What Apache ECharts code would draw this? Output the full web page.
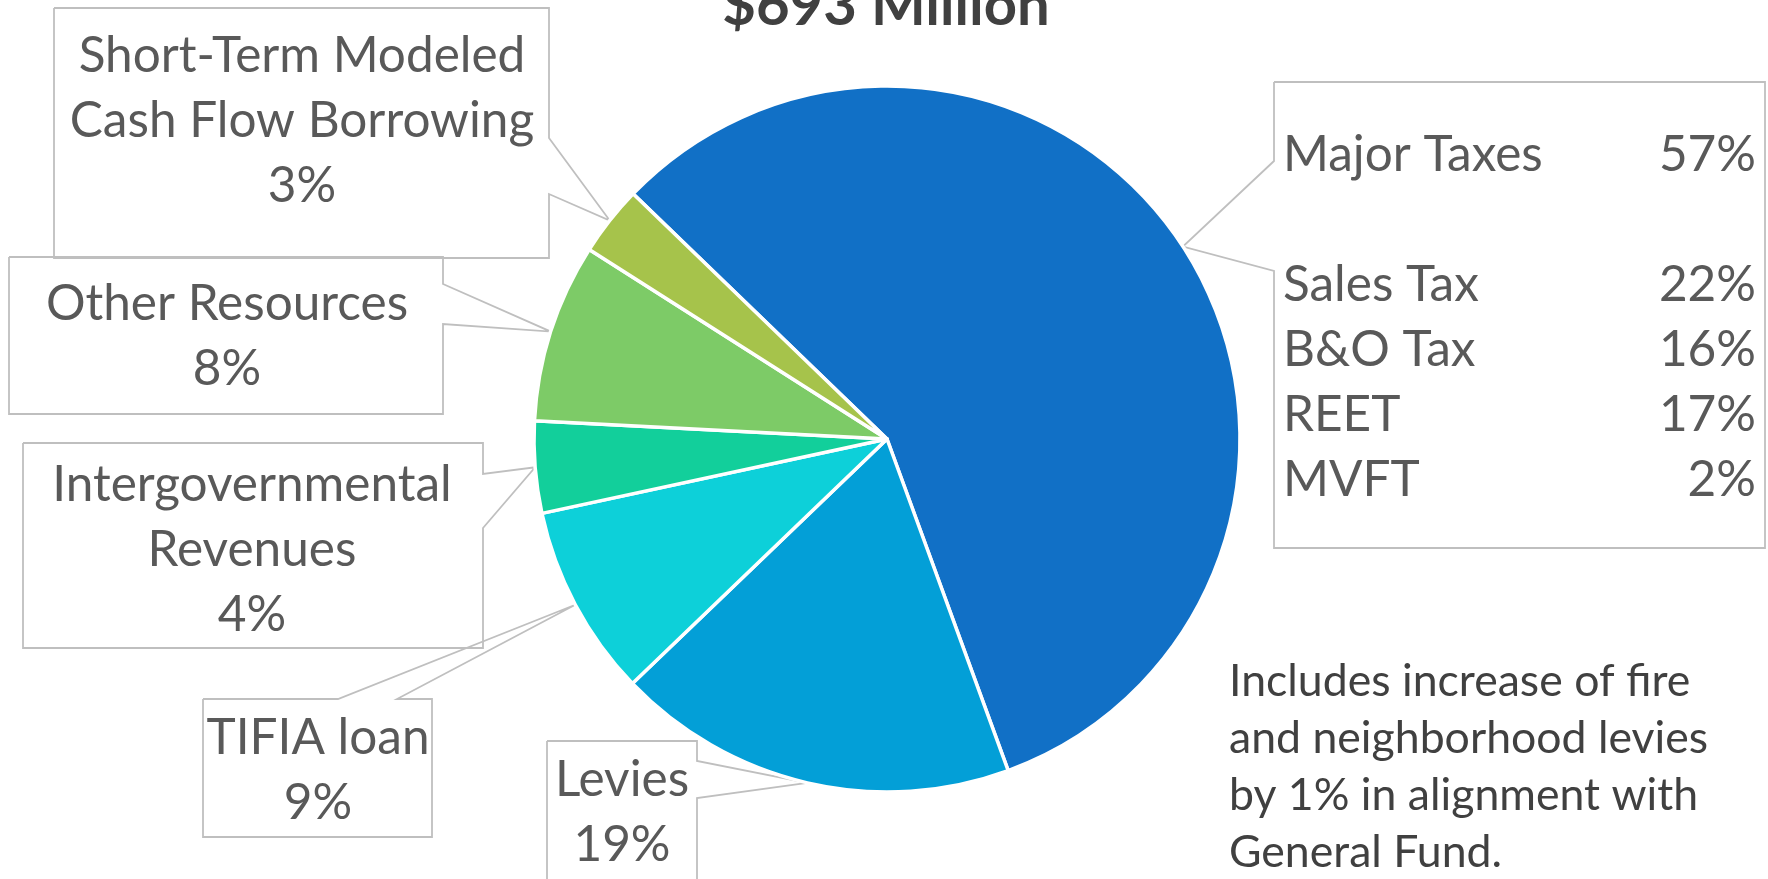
<!DOCTYPE html>
<html>
<head>
<meta charset="utf-8">
<script src="https://cdn.jsdelivr.net/npm/echarts@6/dist/echarts.min.js"></script>
<style>
html,body{margin:0;padding:0;background:#ffffff;}
#chart{width:1768px;height:879px;}
</style>
</head>
<body>
<div id="chart"></div>
<script>
// ---------- data ----------
const categories = ['Major Taxes', 'Levies', 'TIFIA loan', 'Intergovernmental Revenues', 'Other Resources', 'Short-Term Modeled Cash Flow Borrowing'];
const shares = [57.2, 18.4, 8.8, 4.2, 8.2, 3.2];
const pctLabels = ['57%', '19%', '9%', '4%', '8%', '3%'];
const labelNameLines = [['Major Taxes'], ['Levies'], ['TIFIA loan'], ['Intergovernmental', 'Revenues'], ['Other Resources'], ['Short-Term Modeled', 'Cash Flow Borrowing']];
const majorTaxItems = ['Sales Tax', 'B&O Tax', 'REET', 'MVFT'];
const majorTaxPcts = ['22%', '16%', '17%', '2%'];
const titleText = '$693 Million';
const noteLines = ['Includes increase of fire', 'and neighborhood levies', 'by 1% in alignment with', 'General Fund.'];

// ---------- styles / layout ----------
const colors = ['#1170C6', '#039FD7', '#0DD0D9', '#12CF9B', '#7DCB67', '#A6C34B'];
const FONT = 'Lato';
const LABEL_SIZE = 49.5;
const LABEL_LH = 65;
const LABEL_COLOR = '#595959';
const LINE_COLOR = '#BFBFBF';

// callout boxes (annotation layout): rect, which side carries the pointer, pointer base positions, text anchor
const boxes = [
  {l: 1274, t: 82, r: 1765, b: 548, side: 'left', w1: 161, w2: 271, tx: 1283, ty: 318, align: 'left'},
  {l: 547, t: 741, r: 697, b: 905, side: 'right', w1: 761, w2: 798, tx: 622, ty: 813, align: 'center'},
  {l: 203, t: 699, r: 432, b: 837, side: 'top', w1: 338, w2: 397, tx: 318, ty: 771, align: 'center'},
  {l: 23, t: 443, r: 483, b: 648, side: 'right', w1: 474, w2: 528, tx: 252, ty: 550, align: 'center'},
  {l: 9, t: 257, r: 443, b: 414, side: 'right', w1: 284, w2: 324, tx: 227, ty: 337, align: 'center'},
  {l: 54, t: 8, r: 549, b: 258, side: 'right', w1: 138, w2: 194, tx: 302, ty: 121, align: 'center'}
];

function calloutPoints(b, tip) {
  const l = b.l, t = b.t, r = b.r, bt = b.b;
  if (b.side === 'right') {
    return [[l, t], [r, t], [r, b.w1], tip, [r, b.w2], [r, bt], [l, bt], [l, t]];
  } else if (b.side === 'left') {
    return [[l, t], [r, t], [r, bt], [l, bt], [l, b.w2], tip, [l, b.w1], [l, t]];
  } else { // top
    return [[l, t], [b.w1, t], tip, [b.w2, t], [r, t], [r, bt], [l, bt], [l, t]];
  }
}

const chart = echarts.init(document.getElementById('chart'), null, {renderer: 'canvas'});

const seriesData = categories.map((name, i) => ({
  name: name,
  value: shares[i],
  itemStyle: {color: colors[i]}
}));

function labelFormatter(p) {
  const i = p.dataIndex;
  if (i === 0) {
    const rows = [[labelNameLines[0][0], pctLabels[0]], [' ', ' ']];
    majorTaxItems.forEach((n, k) => rows.push([n, majorTaxPcts[k]]));
    return rows.map(rw => '{n|' + rw[0] + '}{p|' + rw[1] + '}').join('\n');
  }
  return labelNameLines[i].concat([pctLabels[i]]).join('\n');
}

const option = {
  backgroundColor: '#ffffff',
  animation: false,
  graphic: [
    {
      type: 'text', x: 886, y: 6, z: 10,
      style: {text: titleText, font: 'bold 58px ' + FONT, fill: '#404040', align: 'center', verticalAlign: 'middle'}
    },
    {
      type: 'text', x: 1229, y: 767, z: 10,
      style: {text: noteLines.join('\n'), font: '44.6px ' + FONT, lineHeight: 57, fill: '#404040', align: 'left', verticalAlign: 'middle'}
    }
  ],
  series: [{
    type: 'pie',
    center: [887, 439],
    radius: [0, 353],
    startAngle: 136,
    clockwise: true,
    avoidLabelOverlap: false,
    data: seriesData,
    itemStyle: {borderColor: '#ffffff', borderWidth: 3.5},
    emphasis: {disabled: true},
    label: {
      show: true,
      position: 'outside',
      formatter: labelFormatter,
      fontFamily: FONT,
      fontSize: LABEL_SIZE,
      lineHeight: LABEL_LH,
      color: LABEL_COLOR,
      rich: {
        n: {fontFamily: FONT, fontSize: LABEL_SIZE, lineHeight: LABEL_LH, color: LABEL_COLOR, width: 360, align: 'left'},
        p: {fontFamily: FONT, fontSize: LABEL_SIZE, lineHeight: LABEL_LH, color: LABEL_COLOR, width: 113, align: 'right'}
      }
    },
    labelLine: {
      show: true,
      smooth: false,
      lineStyle: {color: LINE_COLOR, width: 1.8}
    },
    labelLayout: function (p) {
      const b = boxes[p.dataIndex];
      const res = {x: b.tx, y: b.ty, align: b.align, verticalAlign: 'middle'};
      if (p.labelLinePoints && p.labelLinePoints.length) {
        res.labelLinePoints = calloutPoints(b, p.labelLinePoints[0]);
      }
      return res;
    }
  }]
};

chart.setOption(option);
</script>
</body>
</html>
